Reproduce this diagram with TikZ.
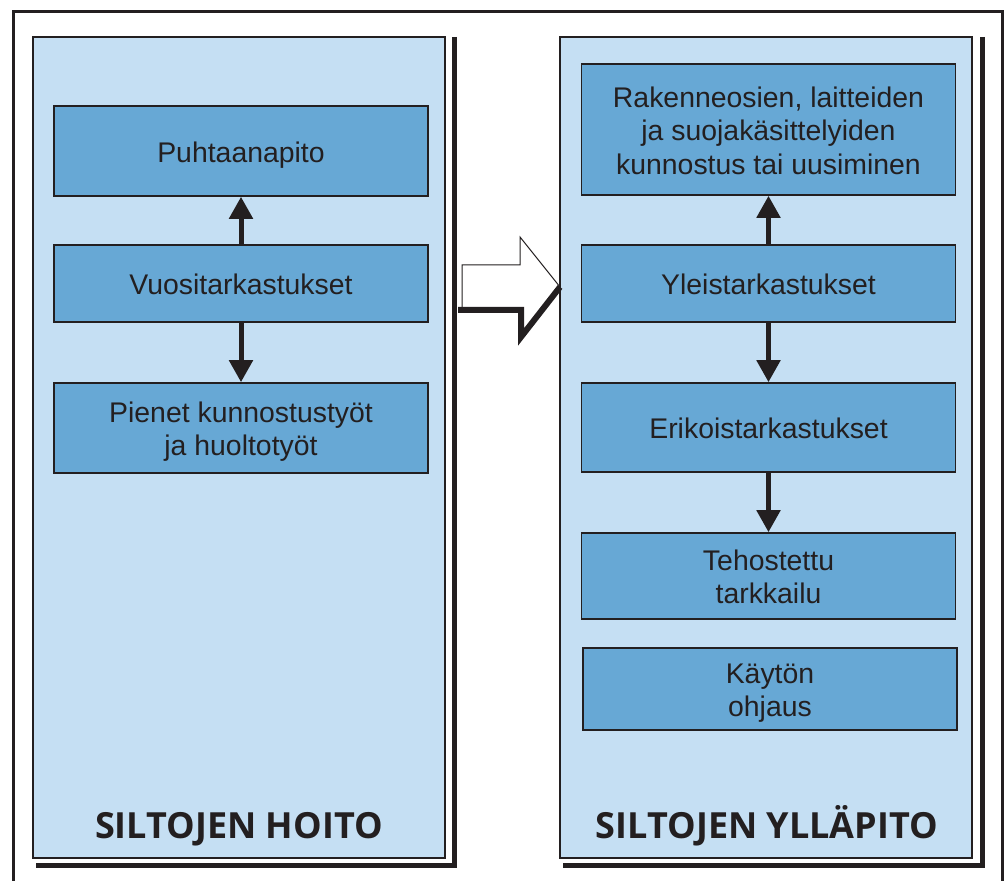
\documentclass[tikz,border=0pt]{standalone}
\usepackage{fontspec}
\setmainfont{Liberation Sans}
\newfontfamily\titlefont{Open Sans}
\usetikzlibrary{arrows.meta}

\definecolor{panelblue}{RGB}{197,223,243}
\definecolor{boxblue}{RGB}{103,168,213}
\definecolor{ink}{RGB}{35,31,32}

% box text sits a little below the middle
\newcommand{\boxtext}[1]{\raisebox{-2.2pt}[\height][\depth]{\begin{tabular}{@{}c@{}}#1\end{tabular}}}

\begin{document}
\begin{tikzpicture}[
    x=0.5pt, y=-0.5pt,
    panel/.style={draw=ink, line width=0.8pt, fill=panelblue},
    shadow/.style={ink, line width=2.6pt},
    box/.style={draw=ink, line width=0.8pt, fill=boxblue, minimum width=187pt, inner sep=0pt, text=ink, font=\fontsize{14.2}{16.8}\selectfont},
    arr/.style={-{Triangle[width=11.5pt, length=11pt]}, ink, line width=2.5pt},
    title/.style={anchor=base, text=ink, font=\titlefont\bfseries\fontsize{18}{20}\selectfont}
  ]
    \useasboundingbox (0,0) rectangle (1007,881);
    \draw[ink, line width=1.5pt] (13,881) -- (13,12) -- (1002,12) -- (1002,881);

    % panels with their shadows
    \draw[shadow] (454.5,37) -- (454.5,865.5) -- (36,865.5);
    \draw[panel] (33,37) rectangle (445,858);
    \draw[shadow] (982.5,37) -- (982.5,865.5) -- (563,865.5);
    \draw[panel] (560,37) rectangle (972,858);

    % hollow arrow between the panels
    \filldraw[fill=white, draw=ink, line width=0.5pt] (462,310) -- (462,265) -- (520,265) -- (520,237) -- (560,287) -- (521,337) -- (521,310) -- cycle;
    \draw[ink, line width=3pt] (458,310) -- (521,310) -- (521,337) -- (560,287);

    % left panel
    \node[box, minimum height=45pt] (puhtaana) at (241,151) {\boxtext{Puhtaanapito}};
    \node[box, minimum height=38.5pt] (vuosi) at (241,283.5) {\boxtext{Vuositarkastukset}};
    \node[box, minimum height=45pt] (pienet) at (241,428) {\boxtext{Pienet kunnostustyöt\\ja huoltotyöt}};
    \node[title] (hoito) at (239,838) {SILTOJEN HOITO};
    \draw[arr] (vuosi) -- (puhtaana);
    \draw[arr] (vuosi) -- (pienet);

    % right panel
    \node[box, minimum height=65.5pt] (rakenne) at (768.5,129.5) {\boxtext{Rakenneosien, laitteiden\\ja suojakäsittelyiden\\kunnostus tai uusiminen}};
    \node[box, minimum height=38.5pt] (yleis) at (768.5,283.5) {\boxtext{Yleistarkastukset}};
    \node[box, minimum height=44.5pt] (erikois) at (768.5,427.5) {\boxtext{Erikoistarkastukset}};
    \node[box, minimum height=43pt] (tehost) at (768.5,576) {\boxtext{Tehostettu\\tarkkailu}};
    \node[box, minimum height=41pt] (kaytto) at (770,689) {\boxtext{Käytön\\ohjaus}};
    \node[title] (yllapito) at (767,838) {SILTOJEN YLLÄPITO};
    \draw[arr] (yleis) -- (rakenne);
    \draw[arr] (yleis) -- (erikois);
    \draw[arr] (erikois) -- (tehost);
  \end{tikzpicture}
\end{document}
